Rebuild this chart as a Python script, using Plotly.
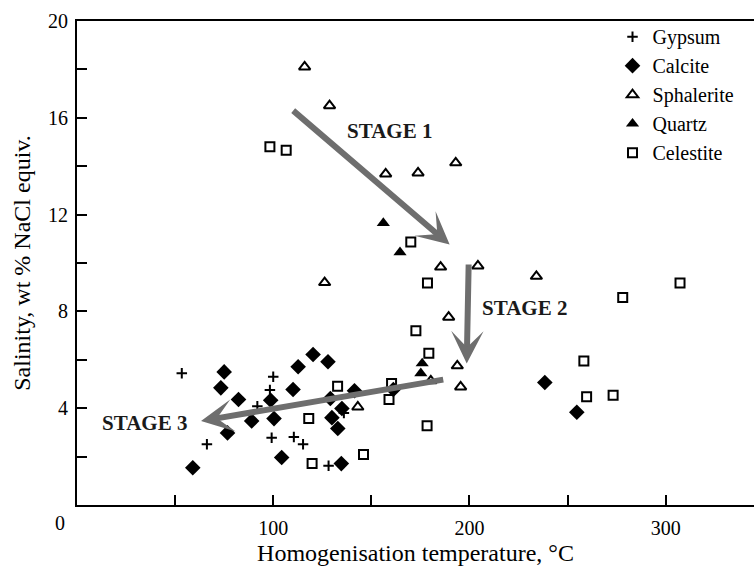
import plotly.graph_objects as go

# ---- data ----
gypsum_t = [53.4, 66.2, 91.9, 98.3, 100.0, 99.2, 110.5, 115.2, 128.2, 136.0]
gypsum_s = [5.44, 2.51, 4.08, 4.75, 5.30, 2.78, 2.81, 2.51, 1.62, 3.80]

calcite_t = [59.0, 73.3, 75.0, 76.7, 82.3, 89.0, 98.7, 100.4, 104.3, 110.1, 112.7,
             120.3, 127.9, 129.1, 129.9, 132.9, 135.0, 134.7, 141.4, 161.2, 238.4, 254.7]
calcite_s = [1.54, 4.84, 5.50, 2.98, 4.36, 3.47, 4.33, 3.57, 1.96, 4.77, 5.71,
             6.22, 5.92, 4.40, 3.61, 3.16, 3.99, 1.71, 4.72, 4.77, 5.06, 3.83]

sphalerite_t = [116.0, 128.7, 157.3, 173.8, 193.0, 126.2, 185.3, 204.3, 234.1,
                189.4, 193.8, 195.5, 180.3, 143.1]
sphalerite_s = [18.1, 16.5, 13.68, 13.72, 14.14, 9.19, 9.83, 9.88, 9.45,
                7.76, 5.75, 4.88, 5.13, 4.05]

quartz_t = [156.1, 164.6, 175.9, 175.2]
quartz_s = [11.65, 10.44, 5.85, 5.44]

celestite_t = [98.3, 106.6, 170.1, 178.6, 172.7, 179.3, 160.3, 159.0, 132.8, 118.1,
               178.4, 146.0, 119.8, 258.3, 259.7, 273.2, 278.1, 307.3]
celestite_s = [14.8, 14.66, 10.87, 9.17, 7.20, 6.27, 5.02, 4.36, 4.91, 3.57,
               3.27, 2.09, 1.71, 5.95, 4.47, 4.54, 8.57, 9.17]

# stage arrows: tail -> head, in data units
stage_names = ["STAGE 1", "STAGE 2", "STAGE 3"]
arrow_tail_t = [109.4, 199.6, 187.4]
arrow_tail_s = [16.35, 10.0, 5.19]
arrow_head_t = [189.9, 198.6, 63.2]
arrow_head_s = [10.76, 5.85, 3.47]
label_t = [159.4, 227.8, 34.3]
label_s = [15.46, 8.14, 3.38]

x_tickvals = [50, 100, 150, 200, 250, 300]
x_ticktext = ["", "100", "", "200", "", "300"]
y_tickvals = [2, 4, 6, 8, 10, 12, 14, 16, 18, 20]
y_ticktext = ["", "4", "", "8", "", "12", "", "16", "", "20"]

FONT = "Liberation Serif, Times New Roman, serif"

fig = go.Figure()
fig.add_trace(go.Scatter(x=gypsum_t, y=gypsum_s, mode="markers", name="Gypsum",
                         marker=dict(symbol="cross-thin", size=7.5, color="black",
                                     line=dict(width=2, color="black"))))
fig.add_trace(go.Scatter(x=calcite_t, y=calcite_s, mode="markers", name="Calcite",
                         marker=dict(symbol="diamond", size=12, color="black",
                                     line=dict(width=0))))
fig.add_trace(go.Scatter(x=sphalerite_t, y=sphalerite_s, mode="markers", name="Sphalerite",
                         marker=dict(symbol="triangle-up-open", size=10, color="black",
                                     line=dict(width=2, color="black"))))
fig.add_trace(go.Scatter(x=quartz_t, y=quartz_s, mode="markers", name="Quartz",
                         marker=dict(symbol="triangle-up", size=11.5, color="black",
                                     line=dict(width=0))))
fig.add_trace(go.Scatter(x=celestite_t, y=celestite_s, mode="markers", name="Celestite",
                         marker=dict(symbol="square-open", size=9, color="black",
                                     line=dict(width=2, color="black"))))

annotations = []
for i in range(len(stage_names)):
    annotations.append(dict(
        x=arrow_head_t[i], y=arrow_head_s[i], xref="x", yref="y",
        ax=arrow_tail_t[i], ay=arrow_tail_s[i], axref="x", ayref="y",
        text="", showarrow=True, arrowhead=3, arrowsize=0.9, arrowwidth=6,
        arrowcolor="#6e6e6e", standoff=0, startstandoff=0))
    annotations.append(dict(
        x=label_t[i], y=label_s[i], xref="x", yref="y", text="<b>%s</b>" % stage_names[i],
        showarrow=False, font=dict(family=FONT, size=21, color="#1a1a1a")))
annotations.append(dict(x=-0.025, y=-0.038, xref="paper", yref="paper", text="0",
                        showarrow=False, xanchor="center", yanchor="middle",
                        font=dict(family=FONT, size=20, color="black")))

fig.update_layout(
    width=754, height=566,
    margin=dict(l=77, r=0, t=21, b=61, autoexpand=False),
    paper_bgcolor="white", plot_bgcolor="white",
    font=dict(family=FONT, size=20, color="black"),
    showlegend=True,
    legend=dict(x=0.791, y=1.008, xanchor="left", yanchor="top",
                bgcolor="rgba(0,0,0,0)", font=dict(family=FONT, size=20),
                tracegroupgap=0),
    annotations=annotations,
    xaxis=dict(range=[0, 345], showgrid=False, zeroline=False, automargin=False,
               showline=True, linecolor="black", linewidth=2, mirror=True,
               ticks="inside", ticklen=10, tickwidth=2, tickcolor="black",
               tickvals=x_tickvals, ticktext=x_ticktext, ticklabelstandoff=4,
               title=dict(text="Homogenisation temperature, °C",
                          font=dict(family=FONT, size=24), standoff=13)),
    yaxis=dict(range=[0, 20], showgrid=False, zeroline=False, automargin=False,
               showline=True, linecolor="black", linewidth=2,
               ticks="inside", ticklen=10, tickwidth=2, tickcolor="black",
               tickvals=y_tickvals, ticktext=y_ticktext, ticklabelstandoff=3,
               title=dict(text="Salinity, wt % NaCl equiv.",
                          font=dict(family=FONT, size=24), standoff=11)),
)

fig.write_html("out.html", config={"displayModeBar": False},
               post_script="document.body.style.margin='0';document.body.style.padding='0';")
